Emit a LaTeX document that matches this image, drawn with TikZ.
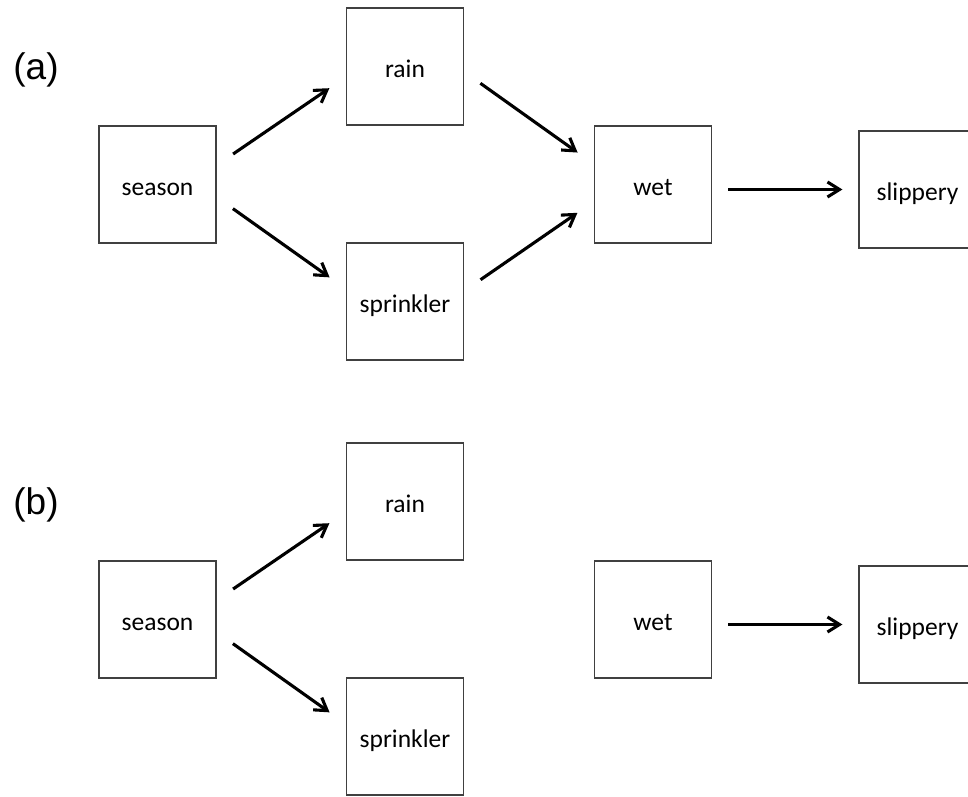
\documentclass[tikz,border=0pt]{standalone}
\usepackage{fontspec}
\usepackage{tikz}
\usetikzlibrary{arrows.meta}

\newfontfamily\boxfont{Carlito}
\newfontfamily\tagfont{Liberation Sans}

\begin{document}
\begin{tikzpicture}[x = 1pt, y = 1pt,
		var/.style = {draw = black!75, line width = 1.2pt, minimum width = 117pt, minimum height = 117pt, inner sep = 0pt, text height = 22pt, text depth = 0pt, font = \boxfont\fontsize{25.5}{30}\selectfont},
		arr/.style = {line width = 3.1pt, -{Straight Barb[length = 12pt, width = 15pt, line width = 3.1pt]}, shorten < = 20pt, shorten > = 20pt},
		tag/.style = {font = \tagfont\fontsize{37}{44}\selectfont}]
		\def\dy{435};
		
		\useasboundingbox (0,0) rectangle (968,796);
		
		% (a)
		\node at (36,726) [tag] (tag a) {(a)};
		\node at (157.5,611.5) [var] (season a) {season};
		\node at (405,729.5) [var] (rain a) {rain};
		\node at (405,494.5) [var] (sprinkler a) {sprinkler};
		\node at (653,611.5) [var] (wet a) {wet};
		\node at (917.5,606.5) [var] (slippery a) {slippery};
		
		\draw [arr] (season a.18) -- (rain a.190);
		\draw [arr] (season a.-12) -- (sprinkler a.168);
		\draw [arr] (rain a.-5.4) -- (wet a.161.5);
		\draw [arr] (sprinkler a.10.7) -- (wet a.196.3);
		\draw [arr, shorten < = 16pt, shorten > = 16pt] (wet a.east |- slippery a.west) -- (slippery a.west);
		
		% (b)
		\node at (36,726-\dy) [tag] (tag b) {(b)};
		\node at (157.5,611.5-\dy) [var] (season b) {season};
		\node at (405,729.5-\dy) [var] (rain b) {rain};
		\node at (405,494.5-\dy) [var] (sprinkler b) {sprinkler};
		\node at (653,611.5-\dy) [var] (wet b) {wet};
		\node at (917.5,606.5-\dy) [var] (slippery b) {slippery};
		
		\draw [arr] (season b.18) -- (rain b.190);
		\draw [arr] (season b.-12) -- (sprinkler b.168);
		\draw [arr, shorten < = 16pt, shorten > = 16pt] (wet b.east |- slippery b.west) -- (slippery b.west);
	\end{tikzpicture}
\end{document}
